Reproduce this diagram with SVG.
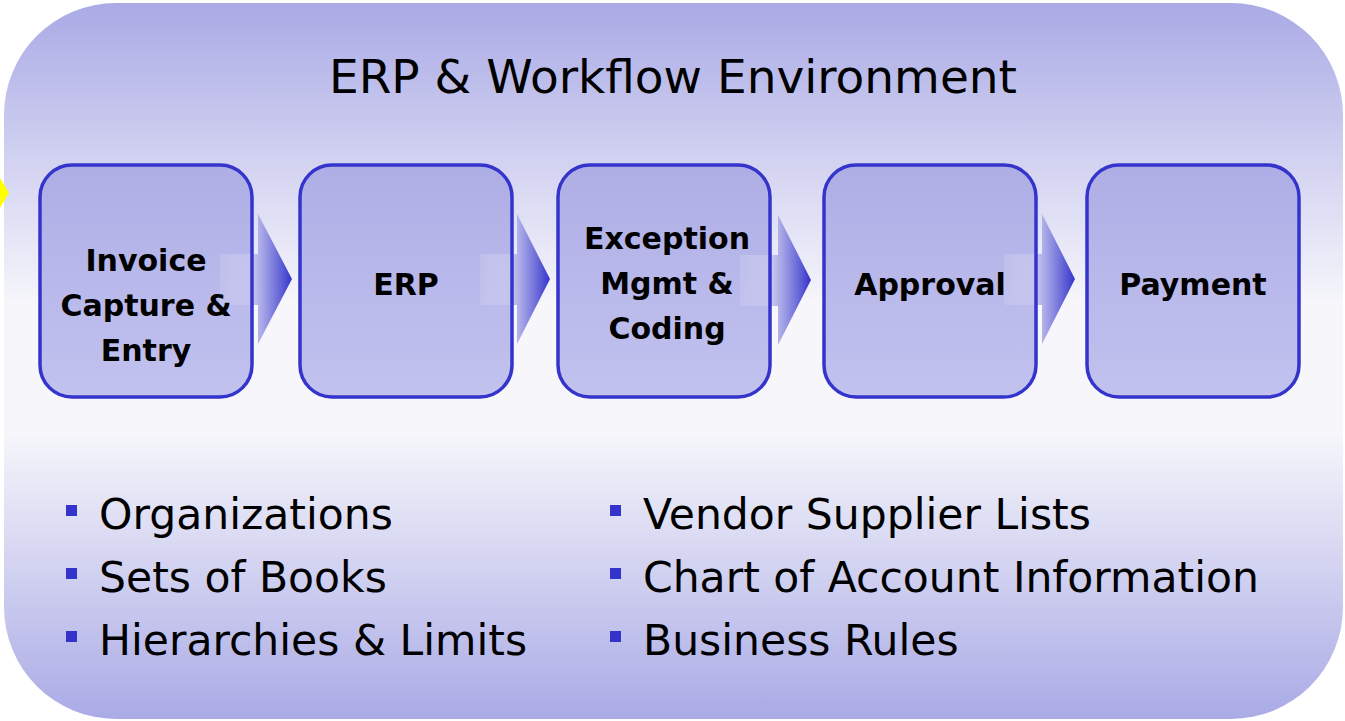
<svg xmlns="http://www.w3.org/2000/svg" width="1345" height="721" viewBox="0 0 1345 721">
<defs>
<linearGradient id="bg" x1="0" y1="0" x2="0" y2="1">
<stop offset="0" stop-color="#aaaae6"/>
<stop offset="0.42" stop-color="#f6f6fb"/>
<stop offset="0.6" stop-color="#f6f6fb"/>
<stop offset="1" stop-color="#aaaae6"/>
</linearGradient>
<linearGradient id="box" x1="0" y1="0" x2="0" y2="1">
<stop offset="0" stop-color="#aeaee6"/>
<stop offset="1" stop-color="#c2c2ef"/>
</linearGradient>
<linearGradient id="arr" x1="0" y1="0" x2="1" y2="0">
<stop offset="0" stop-color="#d2d2f2" stop-opacity="0.3"/>
<stop offset="0.45" stop-color="#c4c4ee" stop-opacity="0.9"/>
<stop offset="1" stop-color="#3434cc"/>
</linearGradient>
<style>
.box{fill:url(#box);}
.bord{fill:none;stroke:#3434cc;stroke-width:3.5;}
.lbl{font-family:"DejaVu Sans",Verdana,sans-serif;font-weight:bold;font-size:30px;fill:#000;text-anchor:middle;}
.title{font-family:"DejaVu Sans",Verdana,sans-serif;font-size:47px;fill:#000;text-anchor:middle;}
.bt{font-family:"DejaVu Sans",Verdana,sans-serif;font-size:42.5px;fill:#000;}
.bul{fill:#3434cc;}
</style>
</defs>
<rect x="4" y="3" width="1339" height="716" rx="112" fill="url(#bg)"/>
<polygon points="0,178 9,193 0,208" fill="#ffff00"/>
<text class="title" x="673" y="93">ERP &amp; Workflow Environment</text>

<g id="boxfills">
<rect class="box" x="40" y="165" width="212" height="232" rx="32"/>
<rect class="box" x="300" y="165" width="212" height="232" rx="32"/>
<rect class="box" x="558" y="165" width="212" height="232" rx="32"/>
<rect class="box" x="824" y="165" width="212" height="232" rx="32"/>
<rect class="box" x="1087" y="165" width="212" height="232" rx="32"/>
</g>

<g id="connectors">
<polygon points="220,254 258,254 258,214 292,279 258,344 258,305 220,305" fill="url(#arr)"/>
<polygon points="480,254 517,254 517,214 550,279 517,344 517,305 480,305" fill="url(#arr)"/>
<polygon points="740,255 778,255 778,215 811,280 778,345 778,306 740,306" fill="url(#arr)"/>
<polygon points="1004,254 1042,254 1042,214 1075,279 1042,344 1042,305 1004,305" fill="url(#arr)"/>
</g>

<g id="n1"><rect class="bord" x="40" y="165" width="212" height="232" rx="32"/>
<text class="lbl" x="146" y="271">Invoice</text><text class="lbl" x="146" y="316">Capture &amp;</text><text class="lbl" x="146" y="361">Entry</text></g>
<g id="n2"><rect class="bord" x="300" y="165" width="212" height="232" rx="32"/>
<text class="lbl" x="406" y="295">ERP</text></g>
<g id="n3"><rect class="bord" x="558" y="165" width="212" height="232" rx="32"/>
<text class="lbl" x="667" y="249">Exception</text><text class="lbl" x="667" y="294">Mgmt &amp;</text><text class="lbl" x="667" y="339">Coding</text></g>
<g id="n4"><rect class="bord" x="824" y="165" width="212" height="232" rx="32"/>
<text class="lbl" x="930" y="295">Approval</text></g>
<g id="n5"><rect class="bord" x="1087" y="165" width="212" height="232" rx="32"/>
<text class="lbl" x="1193" y="295">Payment</text></g>

<g id="bullets">
<rect class="bul" x="66" y="505" width="11" height="11"/>
<rect class="bul" x="66" y="568" width="11" height="11"/>
<rect class="bul" x="66" y="631" width="11" height="11"/>
<rect class="bul" x="610" y="505" width="11" height="11"/>
<rect class="bul" x="610" y="568" width="11" height="11"/>
<rect class="bul" x="610" y="631" width="11" height="11"/>
<text class="bt" x="99" y="529">Organizations</text>
<text class="bt" x="99" y="592">Sets of Books</text>
<text class="bt" x="99" y="655">Hierarchies &amp; Limits</text>
<text class="bt" x="643" y="529">Vendor Supplier Lists</text>
<text class="bt" x="643" y="592">Chart of Account Information</text>
<text class="bt" x="643" y="655">Business Rules</text>
</g>
</svg>
